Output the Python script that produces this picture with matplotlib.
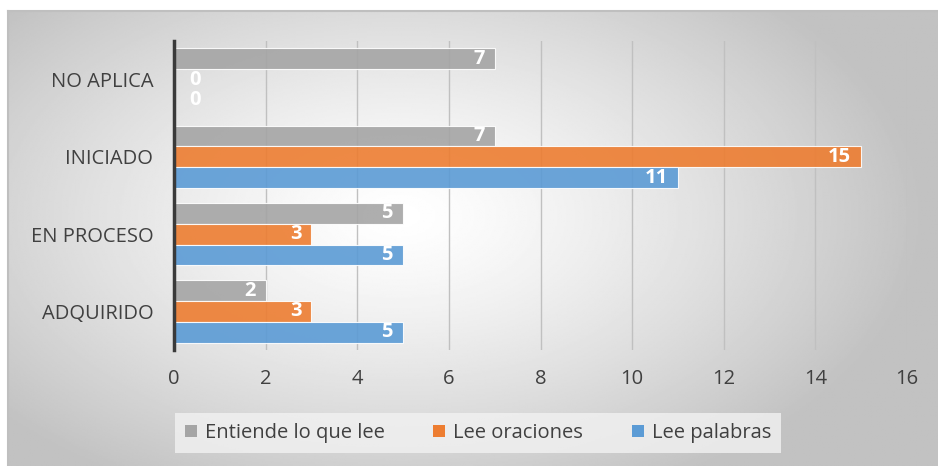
import numpy as np
import matplotlib.pyplot as plt
from matplotlib.patches import Patch

# Datos
categorias = ['ADQUIRIDO', 'EN PROCESO', 'INICIADO', 'NO APLICA']
lee_palabras = [5, 5, 11, 0]
lee_oraciones = [3, 3, 15, 0]
entiende = [2, 5, 7, 7]
series = ['Entiende lo que lee', 'Lee oraciones', 'Lee palabras']
colores = {'Entiende lo que lee': '#a5a5a5', 'Lee oraciones': '#ed7d31', 'Lee palabras': '#5b9bd5'}
ticks_x = [0, 2, 4, 6, 8, 10, 12, 14, 16]

plt.rcParams['font.family'] = ['Open Sans', 'DejaVu Sans']

W, H = 938, 466
fig = plt.figure(figsize=(W / 100, H / 100), dpi=100)

# Fondo con degradado radial
bg = fig.add_axes([8 / W, 0, (W - 8) / W, (H - 11) / H])
yy, xx = np.mgrid[0:1:300j, 0:1:600j]
r = np.sqrt(((xx - 0.42) / 0.75) ** 2 + ((yy - 0.45) / 0.9) ** 2)
r = np.clip(r / 0.75, 0, 1)
bg.imshow(1 - 0.24 * r ** 1.3, cmap='gray', vmin=0, vmax=1, aspect='auto', extent=[0, 1, 0, 1])
bg.set_xticks([])
bg.set_yticks([])
for s in bg.spines.values():
    s.set_color('#bfbfbf')
    s.set_linewidth(1.5)
bg.spines['right'].set_visible(False)
bg.spines['bottom'].set_visible(False)

ax = fig.add_axes([174 / W, 1 - 350 / H, (907 - 174) / W, (350 - 41) / H])
ax.patch.set_alpha(0)

y = np.arange(len(categorias))
h = 0.27
datos = {'Entiende lo que lee': entiende, 'Lee oraciones': lee_oraciones, 'Lee palabras': lee_palabras}
offsets = {'Entiende lo que lee': h, 'Lee oraciones': 0, 'Lee palabras': -h}

for nombre in series:
    vals = datos[nombre]
    pos = y + offsets[nombre]
    ax.barh(pos, vals, height=h, color=colores[nombre], edgecolor='white', linewidth=0.8, alpha=0.9, zorder=3)
    for p, v in zip(pos, vals):
        if v == 0:
            ax.text(0.45, p, str(v), ha='center', va='center', color='white', fontsize=14.5, fontweight='bold', zorder=4)
        else:
            ax.text(v - 0.22, p, str(v), ha='right', va='center', color='white', fontsize=14.5, fontweight='bold', zorder=4)

ax.set_xlim(0, 16)
ax.set_ylim(-0.5, 3.5)
ax.set_xticks(ticks_x)
ax.set_xticklabels([str(t) for t in ticks_x], fontsize=14.5, color='#404040')
ax.set_yticks(y)
ax.set_yticklabels(categorias, fontsize=14.5, color='#404040')
ax.tick_params(length=0)
ax.tick_params(axis='x', pad=14)
ax.tick_params(axis='y', pad=15)
ax.grid(axis='x', color='#c0c0c0', linewidth=1, zorder=0)
for s in ['top', 'right', 'bottom']:
    ax.spines[s].set_visible(False)
ax.spines['left'].set_color('#3a3a3a')
ax.spines['left'].set_linewidth(2.5)
ax.spines['left'].set_zorder(5)

handles = [Patch(facecolor=colores[n], edgecolor='none') for n in series]
leg = fig.legend(handles, series, loc='center', bbox_to_anchor=(478 / W, 1 - 433 / H), ncol=3,
                 fontsize=14.5, frameon=True, fancybox=False, handlelength=0.6, handleheight=0.6,
                 handletextpad=0.4, columnspacing=2.4, borderpad=0.5, labelcolor='#404040')
leg.get_frame().set_facecolor('#f2f2f2')
leg.get_frame().set_edgecolor('none')
leg.get_frame().set_alpha(0.8)

fig.savefig('out.png', dpi=100)
